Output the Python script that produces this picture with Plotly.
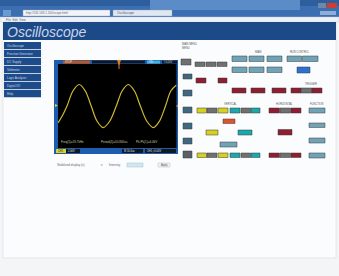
import plotly.graph_objects as go

W, H = 339, 276

# ---- waveform data, time in divisions, volts in divisions
time_div = [0.0, 0.38, 0.76, 1.27, 1.78, 2.29, 2.80, 3.30, 3.81, 4.36, 4.92,
            5.42, 5.93, 6.44, 6.95, 7.50, 8.05, 8.56, 9.07, 9.53, 10.0]
volts = [-1.60, -0.90, 0.0, 1.45, 2.05, 1.45, 0.0, -1.45, -2.05, -1.45, 0.0,
         1.45, 2.05, 1.45, 0.0, -1.45, -2.05, -1.45, 0.0, 1.45, 2.0]

meas_labels = ["Freq(1)=19.7kHz", "Period(1)=50.800us", "Pk-Pk(1)=4.06V"]
nav_items = ["Oscilloscope", "Function Generator", "DC Supply", "Voltmeter",
             "Logic Analyzer", "Digital I/O", "Help"]
group_labels = ["MAIN MENU", "MAIN", "RUN CONTROL", "TRIGGER", "VERTICAL", "HORIZONTAL", "FUNCTION"]
status_top = ["STOP", "T'D", "f 0.00V"]
status_bottom = ["CH1", "2.00V", "M 10.0us", "CH1 ∫ 0.00V"]

shapes = []
annots = []


def rect(x0, y0, x1, y1, fill, line=None, lw=0.0):
    shapes.append(dict(type="rect", xref="x", yref="y", x0=x0, y0=y0, x1=x1, y1=y1,
                       fillcolor=fill, line=dict(color=line or fill, width=lw),
                       layer="below"))


def text(x, y, s, size=4, color="#333", anchor="left", italic=False, family="Liberation Sans"):
    annots.append(dict(x=x, y=y, xref="x", yref="y", text=s, showarrow=False,
                       xanchor=anchor, yanchor="middle", borderpad=0,
                       font=dict(size=size, color=color, family=family,
                                 style="italic" if italic else "normal")))


# page background
rect(0, 0, W, H, "#f3f5f7")
rect(3, 22, 336, 258, "#fbfcfd", "#d8dde2", 0.6)

# browser chrome
rect(0, 0, W, 17, "#3b6fb2")
rect(0, 0, W, 6, "#2d5e9e")
rect(150, 0, 300, 10, "#5b8cc8")
rect(23, 10, 110, 16, "#f2f4f7", "#8aa0bb", 0.4)
text(25, 13, "http://192.168.1.100/scope.html", 3, "#666")
rect(113, 10, 172, 16, "#dfe8f2", "#8aa0bb", 0.4)
text(116, 13, "Oscilloscope", 3, "#555")
rect(3, 10, 11, 16, "#6a9ad0")
rect(318, 3, 326, 8, "#6e88a8")
rect(327, 3, 337, 8, "#d23c2c")
rect(320, 11, 336, 15, "#8fb0d6")
rect(0, 17, W, 22, "#eef1f5", "#c5ccd6", 0.4)
text(5, 19.5, "File  Edit  View", 3, "#666")

# header
rect(3, 22, 336, 40, "#1c4a88")
text(6, 32, "Oscilloscope", 14, "#c9d5e6", italic=True)

# left navigation
for i, name in enumerate(nav_items):
    y0 = 42 + i * 8
    rect(4, y0, 41, y0 + 7.3, "#1e4c8a")
    text(6, y0 + 3.7, name, 3, "#c8d4e6")

# scope frame
rect(54, 60, 178, 154, "#1e5cb0")
rect(58, 64, 176.5, 148, "#000000")
rect(63, 60.6, 90, 63.6, "#c0541e")
text(64, 62.1, status_top[0], 2.6, "#ffe0c0")
rect(92, 60.6, 145, 63.6, "#101820")
rect(147, 60.6, 160, 63.6, "#45b0d8")
text(148, 62.1, status_top[1], 2.6, "#ffffff")
rect(162, 60.6, 177, 63.6, "#101820")
text(163, 62.1, status_top[2], 2.6, "#d0d0d0")
# trigger / channel markers
shapes.append(dict(type="path", xref="x", yref="y", path="M 117 60 L 121 60 L 119 66 Z",
                   fillcolor="#e87a20", line=dict(width=0), layer="below"))
shapes.append(dict(type="line", xref="x", yref="y", x0=119, y0=60, x1=119, y1=69,
                   line=dict(color="#e87a20", width=1), layer="below"))
shapes.append(dict(type="path", xref="x", yref="y", path="M 55 104 L 58 105.5 L 55 107 Z",
                   fillcolor="#e0d040", line=dict(width=0), layer="below"))
shapes.append(dict(type="path", xref="x", yref="y", path="M 178 104.5 L 176 106 L 178 107.5 Z",
                   fillcolor="#e88020", line=dict(width=0), layer="below"))
# measurements
for xm, s in zip([60, 100, 135], meas_labels):
    text(xm, 142, s, 3, "#c8c8a0")
# bottom status strip
rect(56, 149, 66, 153, "#e0d020")
text(57, 151, status_bottom[0], 2.6, "#202000")
rect(66, 149, 80, 153, "#101820")
text(67, 151, status_bottom[1], 2.6, "#e0e0e0")
rect(122, 149, 143, 153, "#101820")
text(123, 151, status_bottom[2], 2.6, "#e0e0e0")
rect(145, 149, 176, 153, "#101820")
text(146, 151, status_bottom[3], 2.6, "#e0e0e0")

# controls below screen
text(56, 165, "Stabilized display (s)", 3, "#666")
text(100, 165, "▾", 3, "#666")
text(108, 165, "Intensity", 3, "#666")
rect(127, 163, 143, 167, "#cfe8f2", "#9ab8c8", 0.4)
rect(158, 163, 170, 167, "#f2f2f2", "#b0b0b0", 0.4)
text(164, 165, "Apply", 2.6, "#555", anchor="center")

# ---- button panel
SK, GR, RD, YL, CY, ST, OR, BL = ("#3f6882", "#6f7072", "#8e1e32", "#d6d020",
                                  "#1aa8aa", "#6fa4b6", "#e0522a", "#2b72d2")
edge = "#3a3a3a"
buttons = [
    (181, 59, 191, 65, GR),
    (183, 74, 192, 79, SK), (183, 90, 192, 96, SK), (183, 107, 192, 113, SK),
    (183, 123, 192, 129, SK), (183, 138, 192, 144, SK), (183, 151, 192, 158, "#58606a"),
    (195, 62, 205, 66.5, GR), (206, 62, 216, 66.5, GR), (217, 62, 227, 66.5, GR),
    (196, 78, 206, 83, RD), (218, 78, 227, 83, RD),
    (232, 56, 247, 61.5, ST), (249, 56, 264, 61.5, ST), (267, 56, 282, 61.5, ST),
    (232, 67, 247, 72.5, ST), (249, 67, 264, 72.5, ST), (267, 67, 282, 72.5, ST),
    (287, 56, 301.5, 61.5, ST), (302.5, 56, 318, 61.5, ST),
    (297, 67, 310, 73, BL),
    (232, 88, 246, 93, RD), (251, 88, 265, 93, RD), (272, 88, 286, 93, RD),
    (291, 88, 301, 93, RD), (301, 88, 312, 93, GR), (312, 88, 322, 93, RD),
    (197, 108, 206.5, 113, YL), (207, 108, 217, 113, GR), (218, 108, 228, 113, YL),
    (230, 108, 240, 113, CY), (241, 108, 250.5, 113, GR), (251, 108, 260, 113, CY),
    (269, 108, 279.5, 113, RD), (280, 108, 290.5, 113, GR), (291, 108, 301, 113, RD),
    (309, 108, 325, 113, ST),
    (223, 119, 235, 123.5, OR),
    (206, 130, 218, 135, YL), (238, 130, 252, 135, CY), (278, 129.5, 292, 135, RD),
    (220, 142, 237, 147, ST),
    (309, 123, 325, 127.5, ST), (309, 138, 325, 143, ST), (309, 153, 325, 158, ST),
    (197, 153, 206.5, 157.5, YL), (207, 153, 217, 157.5, GR), (218, 153, 228, 157.5, YL),
    (230, 153, 240, 157.5, CY), (241, 153, 250.5, 157.5, GR), (251, 153, 260, 157.5, CY),
    (269, 153, 279.5, 157.5, RD), (280, 153, 290.5, 157.5, GR), (291, 153, 301, 157.5, RD),
]
for x0, y0, x1, y1, c in buttons:
    rect(x0, y0, x1, y1, c, edge, 0.5)

label_pos = [(181, 44), (254, 52), (289, 52), (304, 84), (223, 104), (275, 104), (309, 104)]
for (lx, ly), s in zip(label_pos, group_labels):
    text(lx, ly, s, 2.6, "#555")
text(181, 48, "MENU", 2.6, "#555")

fig = go.Figure()
fig.add_trace(go.Scatter(x=[0, W], y=[0, H], mode="markers", marker=dict(opacity=0),
                         hoverinfo="skip", showlegend=False, xaxis="x", yaxis="y"))
fig.add_trace(go.Scatter(x=time_div, y=volts, mode="lines", xaxis="x2", yaxis="y2",
                         line=dict(color="#cbbb30", width=1.2, shape="spline", smoothing=1.0),
                         showlegend=False, hoverinfo="skip"))

fig.update_layout(
    width=W, height=H, margin=dict(l=0, r=0, t=0, b=0),
    paper_bgcolor="#f3f5f7", plot_bgcolor="rgba(0,0,0,0)",
    xaxis=dict(range=[0, W], domain=[0, 1], visible=False, fixedrange=True),
    yaxis=dict(range=[H, 0], domain=[0, 1], visible=False, fixedrange=True),
    xaxis2=dict(range=[0, 10], autorange=False, domain=[58 / W, 176.5 / W],
                anchor="y2", visible=False),
    yaxis2=dict(range=[-4, 4], autorange=False, domain=[1 - 148 / H, 1 - 64 / H],
                anchor="x2", visible=False),
    shapes=shapes, annotations=annots, showlegend=False,
)
fig.write_html("out.html", config={"displayModeBar": False},
               post_script="document.body.style.margin='0';document.body.style.overflow='hidden';")
